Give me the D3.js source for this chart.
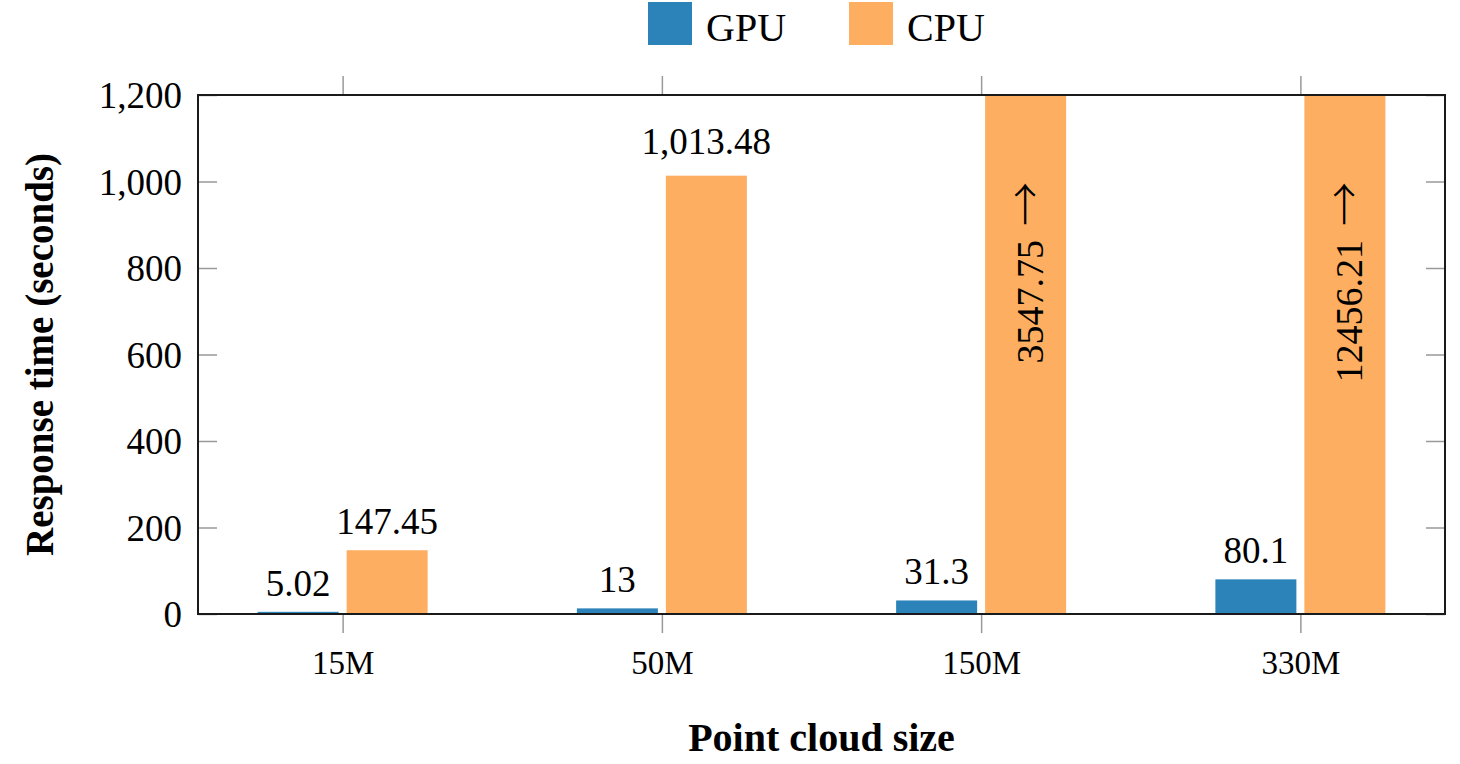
<!DOCTYPE html>
<html>
<head>
<meta charset="utf-8">
<script src="https://cdn.jsdelivr.net/npm/d3@7"></script>
<style>
  html, body { margin: 0; padding: 0; background: #fff; }
  svg { display: block; }
  text { font-family: "Liberation Serif", "Times New Roman", serif; fill: #000; }
</style>
</head>
<body>
<svg id="chart" width="1460" height="764"></svg>
<script>
// ---- data ----
const categories = ["15M", "50M", "150M", "330M"];
const gpuValues = [5.02, 13, 31.3, 80.1];
const cpuValues = [147.45, 1013.48, 3547.75, 12456.21];
const seriesNames = ["GPU", "CPU"];
const seriesColors = ["#2b83ba", "#fdae61"];
const yTicks = [0, 200, 400, 600, 800, 1000, 1200];
const yMax = 1200;

// ---- layout ----
const SERIF = '"Liberation Serif", "Times New Roman", serif';
const plot = { left: 198, right: 1445, top: 95, bottom: 614 };
const barW = 81, barGap = 8;

const svg = d3.select("#chart");

const x = d3.scalePoint()
  .domain(categories)
  .range([plot.left, plot.right])
  .padding(0.453);

const y = d3.scaleLinear()
  .domain([0, yMax])
  .range([plot.bottom, plot.top]);

const fmt = d3.format(",");

// clip
svg.append("defs").append("clipPath").attr("id", "plotclip")
  .append("rect")
  .attr("x", plot.left).attr("y", plot.top)
  .attr("width", plot.right - plot.left).attr("height", plot.bottom - plot.top);

// bars
const series = [gpuValues, cpuValues];
const offsets = [-(barGap / 2 + barW / 2), (barGap / 2 + barW / 2)];
const barsG = svg.append("g").attr("clip-path", "url(#plotclip)");
series.forEach((vals, si) => {
  barsG.selectAll(null)
    .data(categories.map((c, i) => ({ c, v: vals[i] })))
    .enter().append("rect")
    .attr("x", d => x(d.c) + offsets[si] - barW / 2)
    .attr("width", barW)
    .attr("y", d => y(Math.min(d.v, yMax)))
    .attr("height", d => y(0) - y(Math.min(d.v, yMax)))
    .attr("fill", seriesColors[si]);
});

// bar labels
const labelsG = svg.append("g");
series.forEach((vals, si) => {
  categories.forEach((c, i) => {
    const v = vals[i];
    const cx = x(c) + offsets[si];
    if (v <= yMax) {
      const s = fmt(v);
      const extra = s.indexOf(",") >= 0 ? 6 : 0;
      labelsG.append("text")
        .attr("x", cx)
        .attr("y", y(v) - 16 - extra)
        .attr("text-anchor", "middle")
        .style("font-family", SERIF)
        .style("font-size", "37px")
        .text(s);
    } else {
      const t = labelsG.append("text")
        .attr("transform", `translate(${cx + 17},${y(yMax) + 87}) rotate(-90)`)
        .attr("text-anchor", "end")
        .style("font-family", SERIF)
        .style("font-size", "38px");
      t.append("tspan").text(String(v));
      t.append("tspan")
        .attr("dx", 14)
        .attr("dy", "-0.02em")
        .style("font-family", '"Noto Sans CJK JP", "DejaVu Sans", sans-serif')
        .style("font-size", "44px")
        .style("font-weight", "300")
        .text("\u2192");
    }
  });
});

// axes
const tickColor = "#999";
function styleAxis(g) {
  g.select(".domain").remove();
  g.selectAll(".tick line").attr("stroke", tickColor).attr("stroke-width", 1.5);
}

svg.append("g")
  .attr("transform", `translate(${plot.left},0)`)
  .call(d3.axisLeft(y).tickValues(yTicks).tickSize(-19).tickPadding(16).tickFormat(fmt))
  .call(styleAxis)
  .call(g => g.selectAll(".tick text")
    .style("font-family", SERIF)
    .style("font-size", "37px").attr("fill", "#000").attr("dy", "0.34em"));

svg.append("g")
  .attr("transform", `translate(${plot.right},0)`)
  .call(d3.axisRight(y).tickValues(yTicks).tickSize(-19).tickFormat(""))
  .call(styleAxis);

svg.append("g")
  .attr("transform", `translate(0,${plot.bottom})`)
  .call(d3.axisBottom(x).tickSize(19).tickPadding(17.6))
  .call(styleAxis)
  .call(g => g.selectAll(".tick text")
    .style("font-family", SERIF)
    .style("font-size", "33px").attr("fill", "#000"));

svg.append("g")
  .attr("transform", `translate(0,${plot.top})`)
  .call(d3.axisTop(x).tickSize(19).tickFormat(""))
  .call(styleAxis);

// frame
svg.append("rect")
  .attr("x", plot.left).attr("y", plot.top)
  .attr("width", plot.right - plot.left).attr("height", plot.bottom - plot.top)
  .attr("fill", "none").attr("stroke", "#1a1a1a").attr("stroke-width", 2);

// axis titles
svg.append("text")
  .attr("x", (plot.left + plot.right) / 2)
  .attr("y", 751)
  .attr("text-anchor", "middle")
  .style("font-family", SERIF)
  .style("font-size", "40px")
  .style("font-weight", "bold")
  .text("Point cloud size");

svg.append("text")
  .attr("transform", `translate(53,${(plot.top + plot.bottom) / 2}) rotate(-90)`)
  .attr("text-anchor", "middle")
  .style("font-family", SERIF)
  .style("font-size", "39px")
  .style("font-weight", "bold")
  .text("Response time (seconds)");

// legend
const legendItems = [
  { name: seriesNames[0], color: seriesColors[0], x: 648 },
  { name: seriesNames[1], color: seriesColors[1], x: 849 }
];
const lg = svg.append("g");
legendItems.forEach(it => {
  lg.append("rect")
    .attr("x", it.x).attr("y", 2)
    .attr("width", 44).attr("height", 43)
    .attr("fill", it.color);
  lg.append("text")
    .attr("x", it.x + 58).attr("y", 41)
    .style("font-family", SERIF)
    .style("font-size", "40px")
    .text(it.name);
});
</script>
</body>
</html>
